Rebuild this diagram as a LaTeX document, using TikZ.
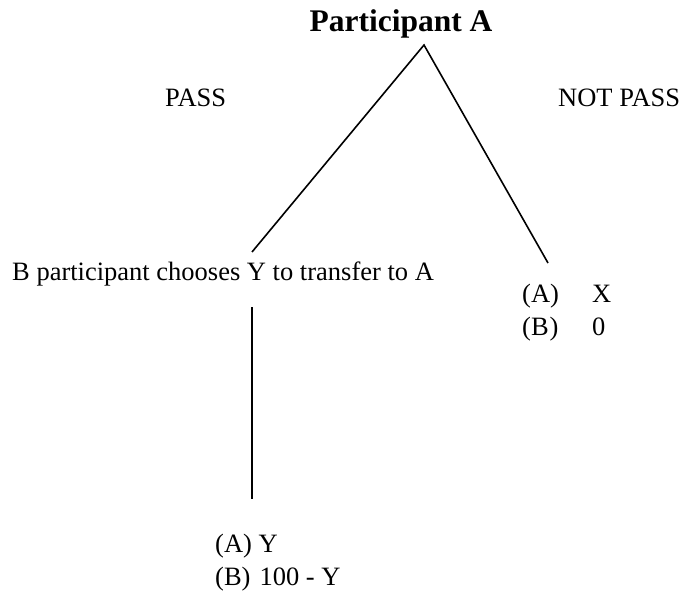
\documentclass[tikz,border=0pt]{standalone}
\usepackage{fontspec}
\setmainfont{Liberation Serif}
\usetikzlibrary{positioning}

\begin{document}
\begin{tikzpicture}[
  x=1pt, y=-1pt,
  lbl/.style={font=\fontsize{26.5}{30}\selectfont, inner sep=0pt, anchor=base west},
  ttl/.style={font=\fontsize{31.5}{36}\selectfont\bfseries, inner sep=0pt, anchor=base},
  branch/.style={draw=black, line width=1.6pt}
]
\useasboundingbox (0,0) rectangle (695,596);

\node[ttl] (partA) at (401,32) {Participant A};
\node[lbl] (pass) at (165,107) {PASS};
\node[lbl] (notpass) at (558,107) {NOT PASS};

\node[lbl] (choice) at (12,280) {B participant chooses Y to transfer to A};

\node[lbl] (aX) at (522,302) {(A)};
\node[lbl] (vX) at (592,302) {X};
\node[lbl] (bX) at (522,335) {(B\kern1pt)};
\node[lbl] (vZero) at (592,335) {0};

\node[lbl] (aY) at (215,552) {(A) Y};
\node[lbl] (bY) at (215,585) {(B)\hspace{9pt}100 - Y};

% tree
\coordinate (apex) at (424,45);
\coordinate (passend) at (252,252);
\coordinate (notpassend) at (548,263);
\coordinate (stemtop) at (252,307);
\coordinate (stembot) at (252,499);

\draw[branch] (passend) -- (apex) -- (notpassend);
\draw[branch] (stemtop) -- (stembot);
\end{tikzpicture}
\end{document}
